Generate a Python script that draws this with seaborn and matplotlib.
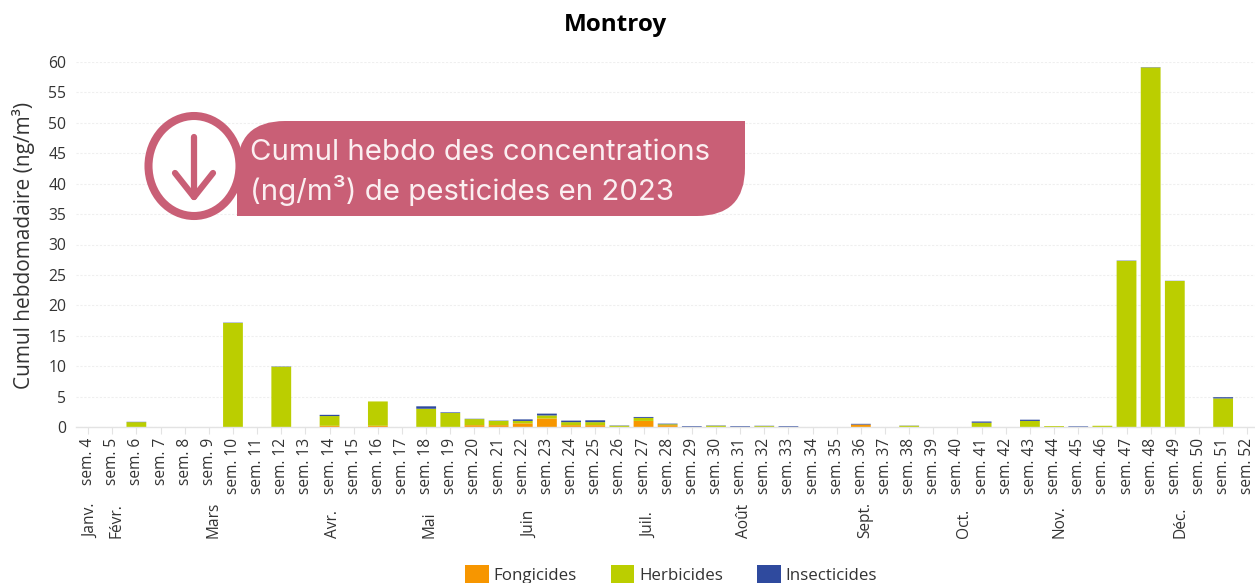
import matplotlib
matplotlib.use("Agg")
import matplotlib.pyplot as plt
import seaborn as sns
import numpy as np
from matplotlib.patches import Ellipse, PathPatch
from matplotlib.path import Path

weeks = [f"sem. {i}" for i in range(4, 53)]
fongicides = [0, 0, 0, 0, 0, 0, 0, 0, 0, 0, 0.2, 0, 0.2, 0, 0, 0, 0.3, 0.3, 0.6, 1.4, 0.3, 0.3, 0, 1.0, 0.3,
              0, 0, 0, 0, 0, 0, 0, 0.4, 0, 0, 0, 0, 0, 0, 0, 0, 0, 0, 0, 0, 0, 0, 0, 0]
herbicides = [0, 0, 0.8, 0, 0, 0, 17.1, 0, 9.9, 0, 1.6, 0, 4.0, 0, 3.0, 2.3, 1.0, 0.7, 0.4, 0.5, 0.5, 0.5, 0.2, 0.5, 0.15,
              0, 0.2, 0, 0.15, 0, 0, 0, 0, 0, 0.2, 0, 0, 0.7, 0, 1.0, 0.15, 0, 0.2, 27.3, 59.1, 24.0, 0, 4.7, 0]
insecticides = [0, 0, 0.05, 0, 0, 0, 0.05, 0, 0.05, 0, 0.2, 0, 0, 0, 0.4, 0.1, 0.05, 0.05, 0.25, 0.3, 0.25, 0.3, 0.05, 0.15, 0.1,
                0.12, 0.05, 0.12, 0.05, 0.12, 0, 0, 0.12, 0, 0.03, 0, 0, 0.2, 0, 0.2, 0, 0.1, 0, 0.05, 0.05, 0.03, 0, 0.2, 0]
months = ["Janv.", "Févr.", "Mars", "Avr.", "Mai", "Juin", "Juil.", "Août", "Sept.", "Oct.", "Nov.", "Déc."]
month_pos = [0.12, 1.18, 5.18, 10.14, 14.14, 18.28, 23.23, 27.15, 32.2, 36.28, 40.22, 45.25]
yticks = list(range(0, 65, 5))

W, H = 1255, 583
sns.set_theme(style="white")
plt.rcParams["font.family"] = ["Open Sans", "DejaVu Sans"]
fig = plt.figure(figsize=(W / 100, H / 100), dpi=100)
ax = fig.add_axes([76 / W, 1 - 427 / H, (W - 76) / W, 365 / H])

f = np.array(fongicides)
h = np.array(herbicides)
i = np.array(insecticides)
common = dict(saturation=1, width=0.82, ax=ax, linewidth=0, legend=False)
sns.barplot(x=weeks, y=f, color="#F79600", label="Fongicides", **common)
sns.barplot(x=weeks, y=h, bottom=f, color="#BBCE00", label="Herbicides", **common)
sns.barplot(x=weeks, y=i, bottom=f + h, color="#2F4A9E", label="Insecticides", **common)
for p in ax.patches:
    p.set_snap(False)

ax.set_xlim(-0.5, 48.32)
ax.set_ylim(0, 60)
ax.set_yticks(yticks)
ax.grid(axis="y", color="#efefef", lw=0.8, ls=(0, (2, 1.5)))
ax.set_axisbelow(True)
for s in ["top", "right", "left"]:
    ax.spines[s].set_visible(False)
ax.spines["bottom"].set_color("#e3e3e3")
ax.spines["bottom"].set_linewidth(1)
ax.tick_params(axis="x", rotation=90, labelsize=11.2, length=5, width=0.8, color="#e3e3e3",
               labelcolor="#333333", pad=3, bottom=True)
ax.tick_params(axis="y", labelsize=11.3, length=0, labelcolor="#333333", pad=7)
ax.set_ylabel("")
ax.set_xlabel("")

trans = ax.get_xaxis_transform()
for lab, pos in zip(months, month_pos):
    ax.text(pos, -111 / 365, lab, transform=trans, rotation=90, ha="center", va="bottom",
            fontsize=11.2, color="#333333")

fig.text(24 / W, 1 - 245 / H, "Cumul hebdomadaire (ng/m³)", rotation=90, ha="center", va="center",
         fontsize=15, color="#333333")
fig.text(615 / W, 1 - 25 / H, "Montroy", ha="center", va="center", fontsize=17.5,
         fontweight="bold", color="#000000")

handles, labels = ax.get_legend_handles_labels()
fig.legend(handles, labels, loc="lower left", bbox_to_anchor=(465 / W, -1 / H), bbox_transform=fig.transFigure,
           ncol=3, frameon=False, fontsize=12.2, labelcolor="#333333", borderaxespad=0, borderpad=0,
           handlelength=1.4, handleheight=1.28, handletextpad=0.28, columnspacing=2.0)

# banner overlay, in picture pixels
ov = fig.add_axes([0, 0, 1, 1], facecolor="none")
ov.set_xlim(0, W)
ov.set_ylim(H, 0)
ov.axis("off")
pink = "#C95F76"
x0, x1, y0, y1, r = 237, 745, 121, 216, 48
verts = [(x0 + r, y0), (x1, y0), (x1, y1 - r), (x1, y1), (x1 - r, y1), (x0, y1), (x0, y0 + r), (x0, y0), (x0 + r, y0)]
codes = [Path.MOVETO, Path.LINETO, Path.LINETO, Path.CURVE3, Path.CURVE3, Path.LINETO, Path.LINETO, Path.CURVE3, Path.CURVE3]
ov.add_patch(PathPatch(Path(verts, codes), fc=pink, ec="none"))
ov.add_patch(Ellipse((194, 166), 91, 100, fc="white", ec=pink, lw=5.8))
ov.plot([194, 194], [137, 197], color=pink, lw=4.5, solid_capstyle="round")
ov.plot([175, 194, 213], [173, 197, 173], color=pink, lw=4.5, solid_capstyle="round", solid_joinstyle="round")
ov.text(250, 152, "Cumul hebdo des concentrations", color="#FBEFF1", fontsize=21.2, family="Inter", va="center", ha="left")
ov.text(250, 190, "(ng/m³) de pesticides en 2023", color="#FBEFF1", fontsize=21.2, family="Inter", va="center", ha="left")

fig.savefig("out.png", dpi=100)
